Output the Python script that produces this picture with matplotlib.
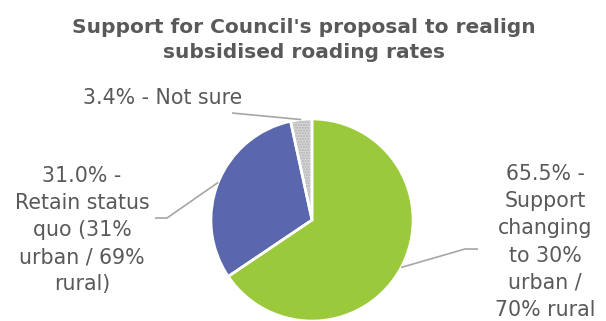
import numpy as np
import matplotlib.pyplot as plt

# survey result shares (percent), drawn clockwise from 12 o'clock
shares = [65.5, 31.0, 3.4]
descriptions = ['Support\nchanging\nto 30%\nurban /\n70% rural',
                'Retain status\nquo (31%\nurban / 69%\nrural)',
                'Not sure']
colors = ['#9BC93C', '#5B67AD', '#D6D6D6']
title = "Support for Council's proposal to realign\nsubsidised roading rates"

W, H = 606, 321
CX, CY, R = 312, 220, 101
TEXT = '#595959'


def py(y):
    # pixel rows counted from the top
    return H - y


def main():
    plt.rcParams['hatch.linewidth'] = 1.0
    fig = plt.figure(figsize=(W / 100, H / 100), dpi=100)
    ax = fig.add_axes([0, 0, 1, 1])

    wedges, _ = ax.pie(shares, colors=colors, startangle=90, counterclock=False,
                       center=(CX, py(CY)), radius=R,
                       wedgeprops=dict(linewidth=0))
    wedges[2].set_hatch('......')
    wedges[2].set_edgecolor('#B0B0B0')
    # white separators on top of the fills
    ax.pie(shares, startangle=90, counterclock=False, center=(CX, py(CY)),
           radius=R, wedgeprops=dict(fill=False, edgecolor='white', linewidth=1.9))

    ax.set_xlim(0, W)
    ax.set_ylim(0, H)
    ax.set_aspect('equal')
    ax.axis('off')

    labels = ['%.1f%% -\n%s' % (shares[0], descriptions[0]),
              '%.1f%% -\n%s' % (shares[1], descriptions[1]),
              '%.1f%% - %s' % (shares[2], descriptions[2])]
    # label centre and leader path after the wedge edge point
    text_pos = [(545, 242), (82, 230), (163, 98)]
    leader = [[(465, 249), (478, 249)],
              [(167, 218), (155, 218)],
              [(232, 113)]]

    for w, lab, (tx, ty), pts in zip(wedges, labels, text_pos, leader):
        mid = np.deg2rad((w.theta1 + w.theta2) / 2)
        ex = CX + R * np.cos(mid)
        ey = py(CY) + R * np.sin(mid)
        xs = [ex] + [p[0] for p in pts]
        ys = [ey] + [py(p[1]) for p in pts]
        ax.plot(xs, ys, color='#A6A6A6', linewidth=1.2, solid_capstyle='butt')
        ax.text(tx, py(ty), lab, ha='center', va='center', color=TEXT,
                fontsize=14.8, linespacing=1.45, multialignment='center')

    ax.text(W / 2 + 1, py(40), title, ha='center', va='center', color=TEXT,
            fontsize=14.5, fontweight='bold', linespacing=1.42)

    fig.savefig('out.png', dpi=100)


if __name__ == '__main__':
    main()
